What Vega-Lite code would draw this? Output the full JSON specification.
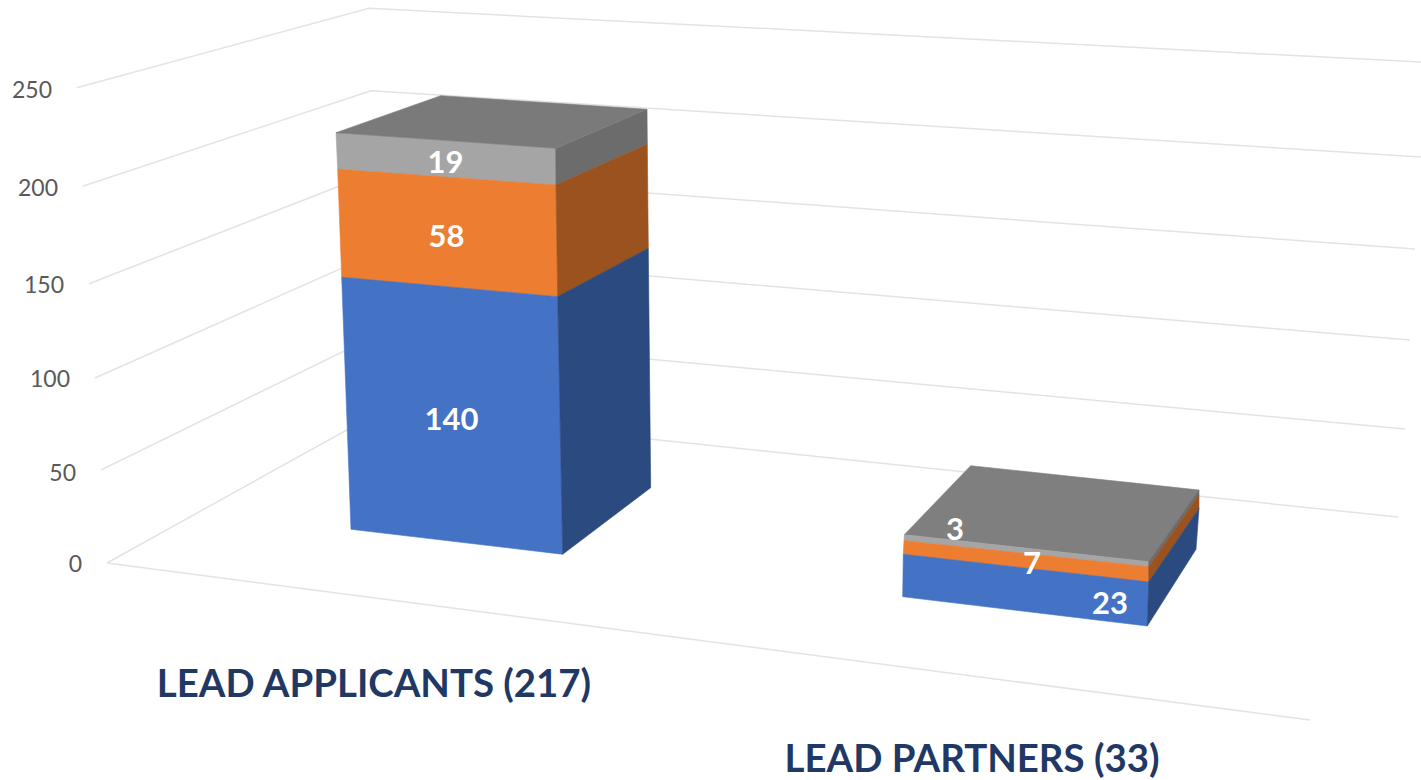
{"$schema":"https://vega.github.io/schema/vega-lite/v6.json","width":1421,"height":780,"autosize":{"type":"none"},"padding":0,"background":"white","view":{"stroke":null},
"datasets":{
"grid":[
{"g":"w250","x":7.67,"y":8.77},{"g":"w250","x":36.9,"y":0.83},{"g":"w250","x":142.1,"y":6.2},
{"g":"w200","x":8.27,"y":18.63},{"g":"w200","x":37.1,"y":9.07},{"g":"w200","x":142.1,"y":15.7},
{"g":"w150","x":8.9,"y":28.37},{"g":"w150","x":37.3,"y":17.3},{"g":"w150","x":141.5,"y":24.9},
{"g":"w100","x":9.5,"y":37.8},{"g":"w100","x":37.6,"y":25.3},{"g":"w100","x":141.0,"y":34.0},
{"g":"w50","x":10.1,"y":47.0},{"g":"w50","x":37.9,"y":33.4},{"g":"w50","x":140.5,"y":42.9},
{"g":"w0","x":10.7,"y":56.3},{"g":"w0","x":38.1,"y":41.1},{"g":"w0","x":139.8,"y":51.7},
{"g":"front","x":10.7,"y":56.3},{"g":"front","x":131.0,"y":72.0}
],
"faces":[
{"f":"a-grey-front","x":33.6,"t":13.27,"b":13.27},{"f":"a-grey-front","x":33.77,"t":13.28,"b":16.93},{"f":"a-grey-front","x":55.57,"t":14.83,"b":18.5},{"f":"a-grey-front","x":55.6,"t":18.5,"b":18.5},
{"f":"a-orange-front","x":33.77,"t":16.93,"b":16.93},{"f":"a-orange-front","x":34.17,"t":16.96,"b":27.73},{"f":"a-orange-front","x":55.6,"t":18.5,"b":29.65},{"f":"a-orange-front","x":55.77,"t":29.67,"b":29.67},
{"f":"a-blue-front","x":34.17,"t":27.73,"b":27.73},{"f":"a-blue-front","x":35.1,"t":27.81,"b":52.93},{"f":"a-blue-front","x":55.77,"t":29.67,"b":55.37},{"f":"a-blue-front","x":56.27,"t":55.43,"b":55.43},
{"f":"a-grey-side","x":55.57,"t":14.83,"b":14.83},{"f":"a-grey-side","x":55.6,"t":14.82,"b":18.5},{"f":"a-grey-side","x":64.7,"t":10.93,"b":14.41},{"f":"a-grey-side","x":64.73,"t":14.4,"b":14.4},
{"f":"a-orange-side","x":55.6,"t":18.5,"b":18.5},{"f":"a-orange-side","x":55.77,"t":18.42,"b":29.67},{"f":"a-orange-side","x":64.73,"t":14.4,"b":24.88},{"f":"a-orange-side","x":64.83,"t":24.83,"b":24.83},
{"f":"a-blue-side","x":55.77,"t":29.67,"b":29.67},{"f":"a-blue-side","x":56.27,"t":29.4,"b":55.43},{"f":"a-blue-side","x":64.83,"t":24.83,"b":48.95},{"f":"a-blue-side","x":65.07,"t":48.77,"b":48.77},
{"f":"a-top","x":33.6,"t":13.27,"b":13.27},{"f":"a-top","x":44.07,"t":9.57,"b":14.01},{"f":"a-top","x":55.57,"t":10.33,"b":14.83},{"f":"a-top","x":64.7,"t":10.93,"b":10.93},
{"f":"b-top","x":90.43,"t":53.47,"b":53.47},{"f":"b-top","x":97.07,"t":46.57,"b":54.2},{"f":"b-top","x":114.87,"t":48.46,"b":56.17},{"f":"b-top","x":119.9,"t":49.0,"b":49.0},
{"f":"b-grey-front","x":90.4,"t":54.07,"b":54.07},{"f":"b-grey-front","x":90.43,"t":53.47,"b":54.07},{"f":"b-grey-front","x":114.87,"t":56.17,"b":56.67},
{"f":"b-orange-front","x":90.33,"t":55.43,"b":55.43},{"f":"b-orange-front","x":90.4,"t":54.07,"b":55.44},{"f":"b-orange-front","x":114.87,"t":56.67,"b":58.2},
{"f":"b-blue-front","x":90.27,"t":59.67,"b":59.67},{"f":"b-blue-front","x":90.33,"t":55.43,"b":59.68},{"f":"b-blue-front","x":114.73,"t":58.18,"b":62.6},{"f":"b-blue-front","x":114.87,"t":58.2,"b":58.2},
{"f":"b-grey-side","x":114.87,"t":56.17,"b":56.67},{"f":"b-grey-side","x":119.9,"t":49.0,"b":49.5},
{"f":"b-orange-side","x":114.87,"t":56.67,"b":58.2},{"f":"b-orange-side","x":119.9,"t":49.5,"b":50.83},
{"f":"b-blue-side","x":114.73,"t":62.6,"b":62.6},{"f":"b-blue-side","x":114.87,"t":58.2,"b":62.38},{"f":"b-blue-side","x":119.6,"t":51.27,"b":54.93},{"f":"b-blue-side","x":119.9,"t":50.83,"b":50.83}
]},
"layer":[
{"data":{"name":"grid"},"mark":{"type":"line","stroke":"#e3e3e3","strokeWidth":1.5,"interpolate":"linear"},
"encoding":{"x":{"field":"x","type":"quantitative","scale":{"domain":[0,142.1],"nice":false,"zero":false},"axis":null},"y":{"field":"y","type":"quantitative","scale":{"domain":[78,0],"nice":false,"zero":false},"axis":null},"detail":{"field":"g"}}},
{"data":{"name":"faces"},"mark":{"type":"area","interpolate":"linear","strokeWidth":0.6},
"encoding":{"x":{"field":"x","type":"quantitative","scale":{"domain":[0,142.1],"nice":false,"zero":false},"axis":null},"y":{"field":"t","type":"quantitative","scale":{"domain":[78,0],"nice":false,"zero":false},"axis":null},"y2":{"field":"b"},
"color":{"field":"f","type":"nominal","legend":null,"scale":{"domain":["a-grey-front","a-orange-front","a-blue-front","a-grey-side","a-orange-side","a-blue-side","a-top","b-top","b-grey-front","b-orange-front","b-blue-front","b-grey-side","b-orange-side","b-blue-side"],"range":["#a5a5a5","#ed7d31","#4472c4","#6c6c6c","#9a521f","#2b4a80","#7a7a7a","#7f7f7f","#a5a5a5","#ed7d31","#4472c4","#6c6c6c","#9a521f","#2b4a80"]}},
"stroke":{"field":"f","type":"nominal","legend":null,"scale":{"domain":["a-grey-front","a-orange-front","a-blue-front","a-grey-side","a-orange-side","a-blue-side","a-top","b-top","b-grey-front","b-orange-front","b-blue-front","b-grey-side","b-orange-side","b-blue-side"],"range":["#a5a5a5","#ed7d31","#4472c4","#6c6c6c","#9a521f","#2b4a80","#7a7a7a","#7f7f7f","#a5a5a5","#ed7d31","#4472c4","#6c6c6c","#9a521f","#2b4a80"]}}}},
{"data":{"values":[{"t":"250","x":5.2,"y":9.1},{"t":"200","x":5.8,"y":18.9},{"t":"150","x":6.4,"y":28.6},{"t":"100","x":7.0,"y":38.0},{"t":"50","x":7.6,"y":47.4},{"t":"0","x":8.2,"y":56.5}]},
"mark":{"type":"text","align":"right","baseline":"middle","font":"Lato","fontSize":23,"color":"#595959"},
"encoding":{"x":{"field":"x","type":"quantitative","scale":{"domain":[0,142.1],"nice":false,"zero":false},"axis":null},"y":{"field":"y","type":"quantitative","scale":{"domain":[78,0],"nice":false,"zero":false},"axis":null},"text":{"field":"t"}}},
{"data":{"values":[{"t":"19","x":44.55,"y":16.35},{"t":"58","x":44.65,"y":23.75},{"t":"140","x":45.15,"y":42.05},{"t":"3","x":95.5,"y":53.05},{"t":"7","x":103.2,"y":56.45},{"t":"23","x":111.0,"y":60.45}]},
"mark":{"type":"text","align":"center","baseline":"middle","font":"Lato","fontWeight":"bold","fontSize":31,"color":"white"},
"encoding":{"x":{"field":"x","type":"quantitative","scale":{"domain":[0,142.1],"nice":false,"zero":false},"axis":null},"y":{"field":"y","type":"quantitative","scale":{"domain":[78,0],"nice":false,"zero":false},"axis":null},"text":{"field":"t"}}},
{"data":{"values":[{"t":"LEAD APPLICANTS (217)","x":37.4,"y":68.45},{"t":"LEAD PARTNERS (33)","x":97.2,"y":75.95}]},
"mark":{"type":"text","align":"center","baseline":"middle","font":"Lato","fontWeight":"bold","fontSize":38.4,"color":"#1f3864"},
"encoding":{"x":{"field":"x","type":"quantitative","scale":{"domain":[0,142.1],"nice":false,"zero":false},"axis":null},"y":{"field":"y","type":"quantitative","scale":{"domain":[78,0],"nice":false,"zero":false},"axis":null},"text":{"field":"t"}}}
],"config":{"legend":{"disable":true}}}
